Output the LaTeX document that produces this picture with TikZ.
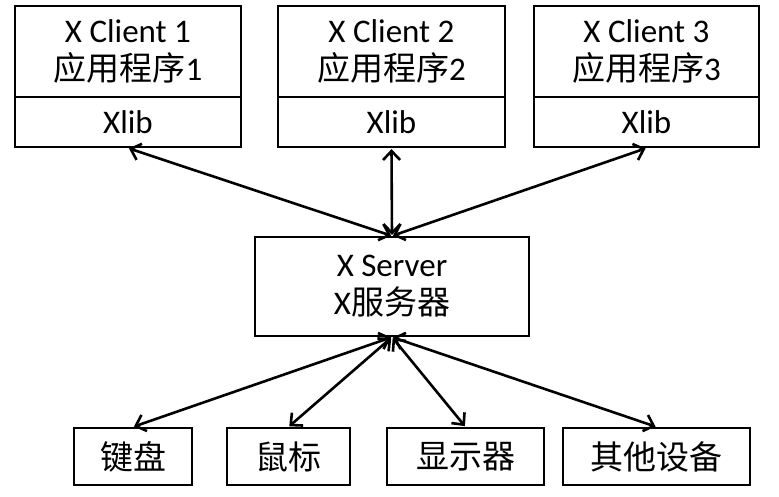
\documentclass[tikz,border=0pt]{standalone}
\usepackage{fontspec}
\setmainfont{Carlito}
\newfontfamily\cjk{Noto Sans CJK SC}
\usetikzlibrary{arrows.meta}
\tikzset{
  box/.style={draw=black, line width=2.2pt, rectangle, inner sep=0pt, align=center,
    font=\fontsize{33}{38}\selectfont},
  link/.style={line width=2.6pt, {Straight Barb[length=9pt,width=17pt]}-{Straight Barb[length=9pt,width=17pt]}, shorten <=1pt, shorten >=1pt}
}
\begin{document}
\begin{tikzpicture}[x=1pt,y=-1pt]
\useasboundingbox (0,0) rectangle (779,497);
% clients
\node[box, minimum width=226pt, minimum height=91pt] (c1) at (128,51.5) {X Client 1\\{\cjk 应用程序}1};
\node[box, minimum width=226pt, minimum height=50pt] (c1lib) at (128,122) {Xlib};
\node[box, minimum width=227pt, minimum height=91pt] (c2) at (391.5,51.5) {X Client 2\\{\cjk 应用程序}2};
\node[box, minimum width=227pt, minimum height=50pt] (c2lib) at (391.5,122) {Xlib};
\node[box, minimum width=225pt, minimum height=91pt] (c3) at (646.5,51.5) {X Client 3\\{\cjk 应用程序}3};
\node[box, minimum width=225pt, minimum height=50pt] (c3lib) at (646.5,122) {Xlib};
% server
\node[box, minimum width=274pt, minimum height=99pt] (srv) at (392,286.5) {X Server\\X{\cjk 服务器}};
% devices
\node[box, minimum width=118pt, minimum height=57pt] (kb) at (133,456.5) {\cjk 键盘};
\node[box, minimum width=123pt, minimum height=57pt] (ms) at (288.5,456.5) {\cjk 鼠标};
\node[box, minimum width=157pt, minimum height=57pt] (dp) at (465.5,456.5) {\cjk 显示器};
\node[box, minimum width=187pt, minimum height=57pt] (ot) at (656.5,456.5) {\cjk 其他设备};
% connectors
\draw[link] (c1lib.south) -- (srv.north);
\draw[link] (c2lib.south) -- (srv.north);
\draw[link] (c3lib.south) -- (srv.north);
\draw[link] (srv.south) -- (kb.north);
\draw[link] (srv.south) -- (ms.north);
\draw[link] (srv.south) -- (dp.north);
\draw[link] (srv.south) -- (ot.north);
\end{tikzpicture}
\end{document}
